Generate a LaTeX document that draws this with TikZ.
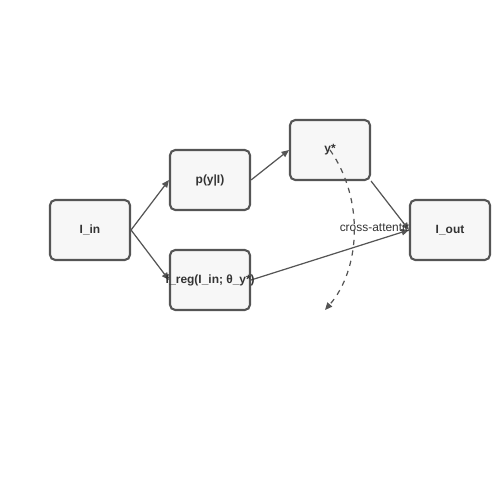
\documentclass[tikz,border=0pt]{standalone}
\usepackage{fontspec}
\setmainfont{Liberation Sans}
\usepackage{tikz}
\usetikzlibrary{arrows.meta}
\usetikzlibrary{backgrounds}
\definecolor{edgegray}{HTML}{555555}
\definecolor{boxfill}{HTML}{F7F7F7}
\tikzset{
    stage/.style={draw=edgegray, fill=boxfill, line width=1.2pt, rounded corners=3pt,
        minimum width=80*0.02cm, minimum height=60*0.02cm, inner sep=0pt,
        font=\fontsize{6.8}{8}\selectfont\bfseries, text=black!80},
    flow/.style={draw=edgegray, line width=0.7pt, -{Triangle[length=4.2pt, width=3.6pt]}},
}

\begin{document}
\begin{tikzpicture}[x=0.02cm, y=-0.02cm]
            \useasboundingbox (0,0) rectangle (500,500);
            \node[stage] (in) at (90, 230) {I\_in};
            \node[stage] (p) at (210, 180) {p(y|I)};
            \node[stage] (freg) at (210, 280) {\makebox[0pt]{f\_reg(I\_in; θ\_y*)}};
            \node[stage] (y) at (330, 150) {y*};
            \node[stage] (out) at (450, 230) {I\_out};

            \begin{scope}[on background layer]
            \draw[flow] (in.east) -- (p.west);
            \draw[flow] (in.east) -- (freg.west);
            \draw[flow] (p.east) -- (y.west);
            \draw[flow] (y.south east) -- (out.west);
            \draw[flow] (freg.east) -- (out.west)
                node[pos=0.81, above=1pt, font=\fontsize{6.8}{8}\selectfont, text=black!80] (xattn) {cross-attention};
            \end{scope}

            % feedback from y* back down
            \draw[flow, dashed] (y.center) .. controls (365, 200) and (360, 270) .. (325, 310);
\end{tikzpicture}
\end{document}
